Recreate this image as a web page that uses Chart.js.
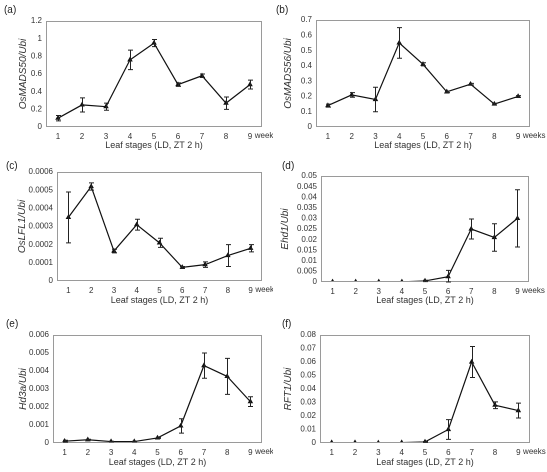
<!DOCTYPE html>
<html>
<head>
<meta charset="utf-8">
<script src="https://cdn.jsdelivr.net/npm/chart.js@4.4.0/dist/chart.umd.min.js"></script>
<style>
  body { margin: 0; background: #fff; }
  #wrap { position: relative; width: 547px; height: 472px; overflow: hidden; }
  canvas { position: absolute; }
  .lbl { position: absolute; font: 10px "Liberation Sans", Arial, sans-serif; color: #222; }
</style>
</head>
<body>
<div id="wrap"></div>
<script>
// leaf stages (x categories)
const stages = ["1", "2", "3", "4", "5", "6", "7", "8", "9"];

// (a) OsMADS50/Ubi
const valsA = [0.10, 0.25, 0.23, 0.76, 0.95, 0.48, 0.58, 0.27, 0.48];
const errA = [0.03, 0.08, 0.04, 0.11, 0.04, 0.02, 0.02, 0.07, 0.05];
// (b) OsMADS56/Ubi
const valsB = [0.14, 0.21, 0.18, 0.55, 0.41, 0.23, 0.28, 0.15, 0.20];
const errB = [0.01, 0.015, 0.08, 0.10, 0.01, 0.005, 0.005, 0.005, 0.005];
// (c) OsLFL1/Ubi
const valsC = [0.00035, 0.00052, 0.000165, 0.00031, 0.00021, 0.000075, 0.00009, 0.00014, 0.00018];
const errC = [0.00014, 0.00002, 0.00001, 0.00003, 0.000025, 0.000005, 0.000015, 0.00006, 0.00002];
// (d) Ehd1/Ubi
const valsD = [0.0001, 0.0001, 0.0001, 0.0001, 0.0005, 0.0025, 0.025, 0.021, 0.030];
const errD = [0, 0, 0, 0, 0.0003, 0.003, 0.0047, 0.0065, 0.0135];
// (e) Hd3a/Ubi
const valsE = [0.0001, 0.00018, 0.00008, 0.00008, 0.00028, 0.00095, 0.0043, 0.0037, 0.0023];
const errE = [0.00005, 0.00003, 0.00002, 0.00002, 0.00002, 0.0004, 0.0007, 0.001, 0.00027];
// (f) RFT1/Ubi
const valsF = [0.0003, 0.0003, 0.0001, 0.0003, 0.0008, 0.010, 0.060, 0.028, 0.024];
const errF = [0, 0, 0, 0, 0.0003, 0.0073, 0.0115, 0.0025, 0.0055];

// y-axis ranges
const yMaxes = [1.2, 0.7, 0.0006, 0.05, 0.006, 0.08];
const ySteps = [0.2, 0.1, 0.0001, 0.005, 0.001, 0.01];
const yTitles = ["OsMADS50/Ubi", "OsMADS56/Ubi", "OsLFL1/Ubi", "Ehd1/Ubi", "Hd3a/Ubi", "RFT1/Ubi"];
const panelLetters = ["(a)", "(b)", "(c)", "(d)", "(e)", "(f)"];
const xTitle = "Leaf stages (LD, ZT 2 h)";

const allVals = [valsA, valsB, valsC, valsD, valsE, valsF];
const allErrs = [errA, errB, errC, errD, errE, errF];

// panel canvas boxes, plot areas, y-title padding, letter positions
const panels = [
  { cx: 0,   cy: 0,   cw: 273, ch: 155, l: 46,  t: 21,  r: 262, b: 127, tp: 17, lx: 4,   ly: 4 },
  { cx: 273, cy: 0,   cw: 274, ch: 155, l: 316, t: 20,  r: 530, b: 127, tp: 9,  lx: 276, ly: 4 },
  { cx: 0,   cy: 155, cw: 273, ch: 155, l: 57,  t: 172, r: 262, b: 281, tp: 16, lx: 6,   ly: 160 },
  { cx: 273, cy: 155, cw: 274, ch: 155, l: 321, t: 176, r: 529, b: 282, tp: 6,  lx: 282, ly: 160 },
  { cx: 0,   cy: 310, cw: 273, ch: 162, l: 53,  t: 335, r: 262, b: 443, tp: 17, lx: 6,   ly: 318 },
  { cx: 273, cy: 310, cw: 274, ch: 162, l: 320, t: 335, r: 530, b: 443, tp: 9,  lx: 282, ly: 318 }
];

const FONT = "'Liberation Sans', Arial, sans-serif";

const frameAndBars = {
  id: "frameAndBars",
  afterDatasetsDraw(chart, args, opts) {
    const { ctx, chartArea: a, scales: { x, y } } = chart;
    ctx.save();
    ctx.strokeStyle = "#9a9a9a";
    ctx.lineWidth = 1;
    ctx.strokeRect(a.left + 0.5, a.top + 0.5, a.right - a.left - 1, a.bottom - a.top - 1);
    // error bars
    ctx.strokeStyle = "#222";
    const data = chart.data.datasets[0].data;
    opts.err.forEach((e, i) => {
      if (!e) return;
      const px = Math.round(x.getPixelForValue(i)) + 0.5;
      const top = y.getPixelForValue(data[i] + e);
      const bot = y.getPixelForValue(Math.max(data[i] - e, 0));
      ctx.beginPath();
      ctx.moveTo(px, top); ctx.lineTo(px, bot);
      ctx.moveTo(px - 2.5, top); ctx.lineTo(px + 2.5, top);
      ctx.moveTo(px - 2.5, bot); ctx.lineTo(px + 2.5, bot);
      ctx.stroke();
    });
    // "weeks" after the last stage label
    const last = x.getPixelForValue(stages.length - 1);
    ctx.fillStyle = "#333";
    ctx.font = "8px " + FONT;
    ctx.textBaseline = "top";
    ctx.textAlign = "left";
    ctx.fillText(" weeks", last + 2.5, x.top + 5);
    ctx.restore();
  }
};

const wrap = document.getElementById("wrap");

panels.forEach((p, k) => {
  const cv = document.createElement("canvas");
  cv.style.left = p.cx + "px";
  cv.style.top = p.cy + "px";
  cv.style.width = p.cw + "px";
  cv.style.height = p.ch + "px";
  cv.width = p.cw;
  cv.height = p.ch;
  wrap.appendChild(cv);

  const lab = document.createElement("div");
  lab.className = "lbl";
  lab.style.left = p.lx + "px";
  lab.style.top = p.ly + "px";
  lab.textContent = panelLetters[k];
  wrap.appendChild(lab);

  new Chart(cv, {
    type: "line",
    data: {
      labels: stages,
      datasets: [{
        data: allVals[k],
        borderColor: "#111",
        borderWidth: 1.2,
        backgroundColor: "#111",
        pointStyle: "triangle",
        pointRadius: 2,
        tension: 0,
        fill: false
      }]
    },
    options: {
      responsive: false,
      animation: false,
      devicePixelRatio: 2,
      layout: { padding: { left: 0, bottom: 0, top: p.t - p.cy, right: p.cx + p.cw - p.r } },
      plugins: {
        legend: { display: false },
        tooltip: { enabled: false },
        frameAndBars: { err: allErrs[k] }
      },
      scales: {
        x: {
          type: "category",
          offset: true,
          grid: { display: false, drawTicks: false },
          border: { display: false },
          ticks: { color: "#333", font: { size: 8, family: FONT }, padding: 5, maxRotation: 0 },
          title: { display: true, text: xTitle, color: "#333", font: { size: 9, family: FONT }, padding: { top: 3 } },
          afterFit(s) { s.height = p.cy + p.ch - p.b; }
        },
        y: {
          min: 0,
          max: yMaxes[k],
          grid: { display: false, drawTicks: false },
          border: { display: false },
          ticks: {
            stepSize: ySteps[k],
            autoSkip: false,
            color: "#333",
            font: { size: 8, family: FONT },
            padding: 4,
            callback: v => String(parseFloat(v.toFixed(6)))
          },
          title: {
            display: true,
            text: yTitles[k],
            color: "#333",
            font: { size: 10, family: FONT, style: "italic" },
            padding: { top: p.tp, bottom: 0 }
          },
          afterFit(s) { s.width = p.l - p.cx; }
        }
      }
    },
    plugins: [frameAndBars]
  });
});
</script>
</body>
</html>
